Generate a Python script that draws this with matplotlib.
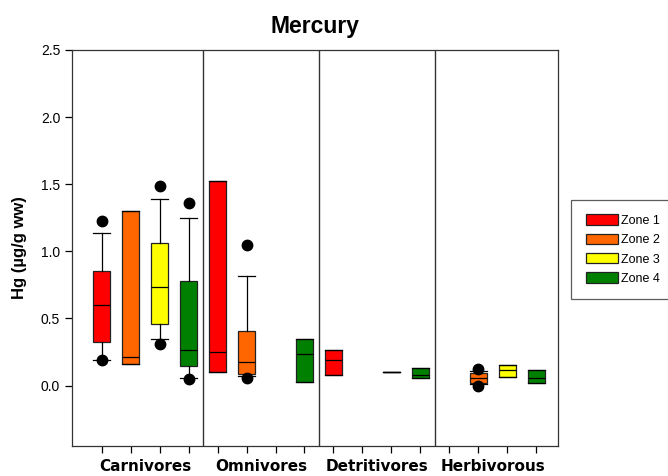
import numpy as np
import matplotlib.pyplot as plt
from matplotlib.patches import Patch

groups = ['Carnivores', 'Omnivores', 'Detritivores', 'Herbivorous']
zones = ['Zone 1', 'Zone 2', 'Zone 3', 'Zone 4']
zone_colors = ['#FF0000', '#FF6600', '#FFFF00', '#008000']

# box statistics, one entry per group x zone (None = no data)
q1 = [0.326, 0.162, 0.46, 0.147,
      0.102, 0.087, None, 0.028,
      0.080, None, 0.102, 0.060,
      None, 0.022, 0.062, 0.020]
med = [0.602, 0.216, 0.734, 0.266,
       0.249, 0.174, None, 0.234,
       0.192, None, 0.102, 0.080,
       None, 0.057, 0.114, 0.057]
q3 = [0.855, 1.30, 1.06, 0.776,
      1.525, 0.41, None, 0.348,
      0.264, None, 0.102, 0.129,
      None, 0.095, 0.154, 0.117]
whislo = [0.189, 0.162, 0.346, 0.057,
          0.102, 0.07, None, 0.028,
          0.080, None, 0.102, 0.060,
          None, 0.012, 0.062, 0.020]
whishi = [1.137, 1.30, 1.393, 1.25,
          1.525, 0.816, None, 0.348,
          0.264, None, 0.102, 0.129,
          None, 0.108, 0.154, 0.117]
fliers = [[1.224, 0.19], [], [1.49, 0.313], [1.36, 0.05],
          [], [1.05, 0.057], [], [],
          [], [], [], [],
          [], [0.125, 0.0], [], []]

fig = plt.figure(figsize=(6.68, 4.76), dpi=100)
ax = fig.add_axes([0.1078, 0.063, 0.7275, 0.832])

stats, pos, cols = [], [], []
for i in range(len(q1)):
    if q1[i] is None:
        continue
    stats.append(dict(q1=q1[i], med=med[i], q3=q3[i], whislo=whislo[i],
                      whishi=whishi[i], fliers=fliers[i]))
    pos.append(i + 1)
    cols.append(zone_colors[i % 4])

bp = ax.bxp(stats, positions=pos, widths=0.6, capwidths=0.6, patch_artist=True,
            boxprops=dict(linewidth=0.9, edgecolor='#222222'),
            medianprops=dict(color='black', linewidth=0.9),
            whiskerprops=dict(color='black', linewidth=0.9),
            capprops=dict(color='black', linewidth=0.9),
            flierprops=dict(marker='o', markerfacecolor='black',
                            markeredgecolor='black', markersize=7.5))
for box, c in zip(bp['boxes'], cols):
    box.set_facecolor(c)

for xs in [4.5, 8.5, 12.5]:
    ax.axvline(xs, color='#333333', linewidth=1.0)

ax.set_xlim(-0.025, 16.75)
ax.set_ylim(-0.45, 2.5)
ax.set_yticks(np.arange(0, 2.51, 0.5))
ax.set_yticklabels(['%.1f' % v for v in np.arange(0, 2.51, 0.5)],
                   family='Liberation Sans', fontsize=10)
ax.set_xticks(range(1, 17))
ax.set_xticklabels([])
ax.set_xticks([2.5, 6.5, 10.5, 14.5], minor=True)
ax.set_xticklabels(groups, minor=True, fontweight='bold', fontsize=11,
                   family='DejaVu Sans')
ax.tick_params(axis='x', which='minor', length=0, pad=9)
ax.tick_params(axis='both', which='major', direction='out', length=5, width=0.9)
for s in ax.spines.values():
    s.set_linewidth(0.9)
    s.set_color('#333333')

ax.set_ylabel('Hg (µg/g ww)', fontweight='bold', fontsize=12,
              family='Liberation Sans', labelpad=10)
ax.set_title('Mercury', fontweight='bold', fontsize=16.5,
             family='Liberation Sans', pad=12)

handles = [Patch(facecolor=c, edgecolor='#222222', linewidth=0.9) for c in zone_colors]
leg = fig.legend(handles, zones, loc='upper left', bbox_to_anchor=(0.855, 0.58),
                 prop=dict(family='Liberation Sans', size=9), fancybox=False,
                 edgecolor='#333333', handlelength=2.6, handleheight=0.9,
                 handletextpad=0.2, labelspacing=0.55, borderpad=1.15,
                 borderaxespad=0)
leg.get_frame().set_linewidth(0.9)

fig.savefig('out.png', dpi=100)
